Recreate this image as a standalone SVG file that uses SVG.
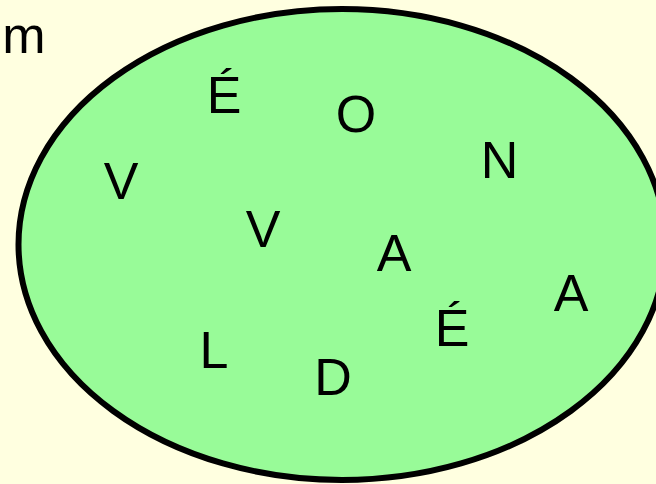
<svg xmlns="http://www.w3.org/2000/svg" width="656" height="484" viewBox="0 0 656 484">
<style>
.lbl{font-family:"Liberation Sans",Arial,sans-serif;font-size:52px;fill:#000;text-anchor:middle}
</style>
<rect width="656" height="484" fill="#ffffe0"/>
<g id="set-m">
<ellipse cx="342" cy="244.5" rx="323.5" ry="235.5" fill="#98fb98" stroke="#000" stroke-width="6"/>
<text class="lbl" x="24" y="53">m</text>
</g>
<g id="elements">
<g id="e1"><text class="lbl" x="224" y="113">É</text></g>
<g id="e2"><text class="lbl" x="356" y="132">O</text></g>
<g id="e3"><text class="lbl" x="499.5" y="178">N</text></g>
<g id="e4"><text class="lbl" x="121" y="199">V</text></g>
<g id="e5"><text class="lbl" x="263" y="247">V</text></g>
<g id="e6"><text class="lbl" x="394" y="271">A</text></g>
<g id="e7"><text class="lbl" x="571" y="311">A</text></g>
<g id="e8"><text class="lbl" x="452" y="346">É</text></g>
<g id="e9"><text class="lbl" x="214" y="368">L</text></g>
<g id="e10"><text class="lbl" x="333" y="395">D</text></g>
</g>
<g id="connectors"/>
</svg>
